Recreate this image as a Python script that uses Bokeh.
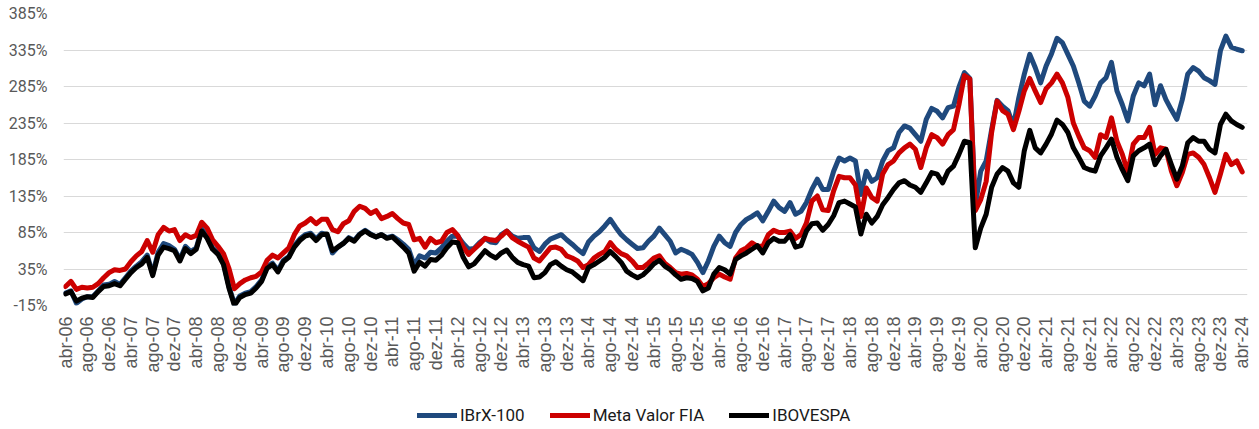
from bokeh.plotting import figure
from bokeh.models import (Range1d, FixedTicker, Span, Legend, LegendItem,
                          ColumnDataSource)
from bokeh.layouts import column
from bokeh.embed import file_html
from bokeh.resources import INLINE
import math

# ---------------- data (monthly, abr-06 .. abr-24), cumulative return in % ----
IBRX_100 = [
    2, 5, -12, -6, -3, -3, 5, 13, 14,
    18, 14, 23, 32, 39, 45, 54, 28, 58, 70, 67, 62,
    48, 66, 59, 64, 90, 80, 64, 57, 43, 11, -13, -2,
    2, 4, 11, 20, 38, 43, 33, 47, 52, 67, 76, 82,
    84, 76, 84, 82, 57, 65, 70, 78, 74, 83, 88, 83,
    79, 82, 78, 80, 75, 69, 62, 40, 53, 50, 58, 57,
    64, 73, 80, 80, 70, 62, 63, 71, 77, 72, 71, 82,
    87, 80, 77, 78, 78, 64, 59, 69, 76, 79, 82, 75,
    69, 62, 56, 72, 80, 86, 94, 103, 92, 82, 75, 69,
    63, 64, 73, 80, 91, 82, 73, 57, 62, 59, 55, 44,
    30, 46, 66, 80, 71, 66, 85, 96, 103, 107, 112, 101,
    114, 128, 119, 114, 126, 110, 114, 126, 144, 158, 144, 144,
    169, 187, 183, 187, 183, 137, 169, 155, 160, 183, 197, 201,
    222, 231, 228, 219, 210, 240, 255, 251, 242, 256, 258, 284,
    304, 296, 122, 169, 183, 226, 266, 258, 252, 231, 270, 302,
    329, 311, 290, 313, 330, 351, 345, 329, 313, 290, 265, 258,
    272, 290, 297, 318, 279, 260, 238, 272, 290, 286, 302, 260,
    286, 267, 253, 240, 267, 302, 311, 306, 297, 293, 288, 334,
    354, 339, 336, 334,
]

META_VALOR_FIA = [
    11, 18, 7, 10, 9, 10, 15, 23, 30,
    34, 33, 35, 45, 53, 59, 74, 58, 82, 92, 87, 89,
    74, 82, 78, 81, 99, 91, 75, 66, 56, 36, 8, 15,
    20, 23, 25, 31, 47, 54, 50, 57, 64, 82, 94, 98,
    104, 97, 103, 103, 89, 86, 97, 101, 114, 121, 118, 111,
    115, 104, 107, 111, 104, 98, 96, 75, 77, 65, 77, 71,
    73, 85, 89, 81, 65, 55, 62, 69, 77, 75, 74, 80,
    87, 78, 73, 69, 65, 50, 46, 55, 64, 65, 62, 53,
    50, 46, 37, 41, 50, 55, 59, 71, 62, 56, 53, 46,
    37, 37, 43, 50, 53, 43, 37, 30, 28, 29, 27, 21,
    11, 15, 23, 28, 24, 21, 50, 60, 64, 71, 66, 66,
    82, 88, 85, 85, 87, 77, 82, 98, 128, 135, 116, 115,
    142, 162, 160, 160, 150, 107, 146, 133, 128, 165, 178, 183,
    194, 201, 206, 199, 174, 201, 219, 215, 206, 219, 226, 260,
    300, 295, 115, 130, 155, 222, 265, 252, 247, 226, 251, 279,
    296, 279, 263, 282, 290, 302, 290, 270, 235, 217, 201, 197,
    188, 219, 215, 242, 210, 192, 167, 206, 215, 215, 229, 192,
    201, 199, 169, 149, 167, 192, 194, 188, 178, 160, 140, 165,
    192, 178, 183, 168,
]

IBOVESPA = [
    1, 4, -9, -5, -3, -4, 4, 11, 12,
    15, 12, 21, 30, 37, 42, 51, 26, 54, 65, 63, 60,
    46, 63, 56, 62, 87, 77, 62, 55, 41, 9, -15, -4,
    0, 2, 9, 18, 36, 41, 31, 45, 51, 65, 74, 80,
    82, 74, 82, 83, 60, 65, 70, 77, 73, 82, 87, 82,
    79, 82, 77, 79, 72, 65, 57, 32, 44, 39, 48, 47,
    54, 64, 72, 71, 51, 38, 42, 51, 60, 54, 50, 57,
    61, 51, 44, 41, 39, 23, 24, 30, 41, 45, 39, 34,
    31, 25, 19, 37, 41, 46, 51, 59, 52, 44, 32, 27,
    23, 27, 34, 42, 47, 39, 34, 27, 21, 23, 22, 18,
    5, 9, 28, 37, 34, 28, 48, 53, 57, 62, 67, 57,
    71, 77, 73, 73, 82, 65, 67, 87, 97, 98, 88, 96,
    108, 126, 128, 124, 120, 83, 110, 98, 107, 123, 133, 144,
    153, 156, 150, 147, 140, 153, 167, 165, 153, 169, 176, 192,
    210, 208, 64, 91, 110, 147, 165, 174, 169, 153, 147, 197,
    225, 201, 194, 206, 220, 239, 233, 222, 201, 188, 174, 171,
    169, 190, 201, 213, 188, 171, 156, 190, 197, 201, 206, 178,
    190, 199, 178, 158, 176, 208, 215, 210, 210, 199, 194, 233,
    247, 238, 233, 229,
]

X_TICK_LABELS = [
    "abr-06", "ago-06", "dez-06", "abr-07", "ago-07", "dez-07",
    "abr-08", "ago-08", "dez-08", "abr-09", "ago-09", "dez-09",
    "abr-10", "ago-10", "dez-10", "abr-11", "ago-11", "dez-11",
    "abr-12", "ago-12", "dez-12", "abr-13", "ago-13", "dez-13",
    "abr-14", "ago-14", "dez-14", "abr-15", "ago-15", "dez-15",
    "abr-16", "ago-16", "dez-16", "abr-17", "ago-17", "dez-17",
    "abr-18", "ago-18", "dez-18", "abr-19", "ago-19", "dez-19",
    "abr-20", "ago-20", "dez-20", "abr-21", "ago-21", "dez-21",
    "abr-22", "ago-22", "dez-22", "abr-23", "ago-23", "dez-23",
    "abr-24",
]
Y_TICKS = [-15, 35, 85, 135, 185, 235, 285, 335, 385]
SERIES_NAMES = ["IBrX-100", "Meta Valor FIA", "IBOVESPA"]
SERIES_COLORS = ["#1F497D", "#CC0000", "#000000"]

# ---------------- main chart --------------------------------------------------
months = list(range(len(IBOVESPA)))
x_ticks = [4 * i for i in range(len(X_TICK_LABELS))]

p = figure(width=1259, height=390,
           x_range=Range1d(-0.37, 216.97), y_range=Range1d(-15, 385),
           output_backend="svg", toolbar_location=None,
           min_border_left=63, min_border_right=12, min_border_top=13,
           min_border_bottom=85)
p.outline_line_color = None

p.xgrid.grid_line_color = None
p.ygrid.grid_line_color = "#D9D9D9"
p.ygrid.grid_line_width = 1
p.ygrid.ticker = FixedTicker(ticks=Y_TICKS)

p.yaxis.ticker = FixedTicker(ticks=Y_TICKS)
p.yaxis.major_label_overrides = {t: f"{t}%" for t in Y_TICKS}
p.yaxis.axis_line_color = None
p.yaxis.major_tick_line_color = None
p.yaxis.minor_tick_line_color = None
p.yaxis.major_tick_out = 0
p.yaxis.major_tick_in = 0
p.yaxis.major_label_standoff = 16
p.yaxis.major_label_text_font = "Roboto"
p.yaxis.major_label_text_font_size = "16px"
p.yaxis.major_label_text_color = "#595959"

p.xaxis.ticker = FixedTicker(ticks=x_ticks)
p.xaxis.major_label_overrides = {t: lab for t, lab in zip(x_ticks, X_TICK_LABELS)}
p.xaxis.major_label_orientation = math.pi / 2
p.xaxis.axis_line_color = None
p.xaxis.major_tick_line_color = None
p.xaxis.minor_tick_line_color = None
p.xaxis.major_tick_out = 0
p.xaxis.major_tick_in = 0
p.xaxis.major_label_standoff = 11
p.xaxis.major_label_text_font = "Liberation Sans"
p.xaxis.major_label_text_font_size = "18px"
p.xaxis.major_label_text_color = "#595959"

p.add_layout(Span(location=0, dimension="width", line_color="#D9D9D9",
                  line_width=1, level="underlay"))

for vals, col in zip([IBRX_100, META_VALOR_FIA, IBOVESPA], SERIES_COLORS):
    src = ColumnDataSource(dict(x=months, y=vals))
    p.line("x", "y", source=src, line_color=col, line_width=5,
           line_join="round", line_cap="round")

# ---------------- legend strip below (frame aligned with the chart) ----------
lg = figure(width=1259, height=39, x_range=Range1d(0, 1), y_range=Range1d(0, 1),
            x_axis_location=None, y_axis_location=None,
            min_border_left=0, min_border_right=0,
            min_border_top=0, min_border_bottom=0,
            output_backend="svg", toolbar_location=None)
lg.outline_line_color = None
lg.grid.visible = False

items = []
for name, col in zip(SERIES_NAMES, SERIES_COLORS):
    r = lg.line(x=[float("nan")], y=[float("nan")], line_color=col,
                line_width=5, line_cap="round")
    items.append(LegendItem(label=name, renderers=[r]))

legend = Legend(items=items, orientation="horizontal", location=(354, 4),
                glyph_width=40, glyph_height=16, label_standoff=3, spacing=25,
                padding=0, margin=0, border_line_color=None,
                background_fill_alpha=0,
                label_text_font="Roboto", label_text_font_size="17px",
                label_text_color="#1A1A1A")
lg.add_layout(legend)

layout = column(p, lg, spacing=0)
open("out.html", "w").write(file_html(layout, INLINE))
